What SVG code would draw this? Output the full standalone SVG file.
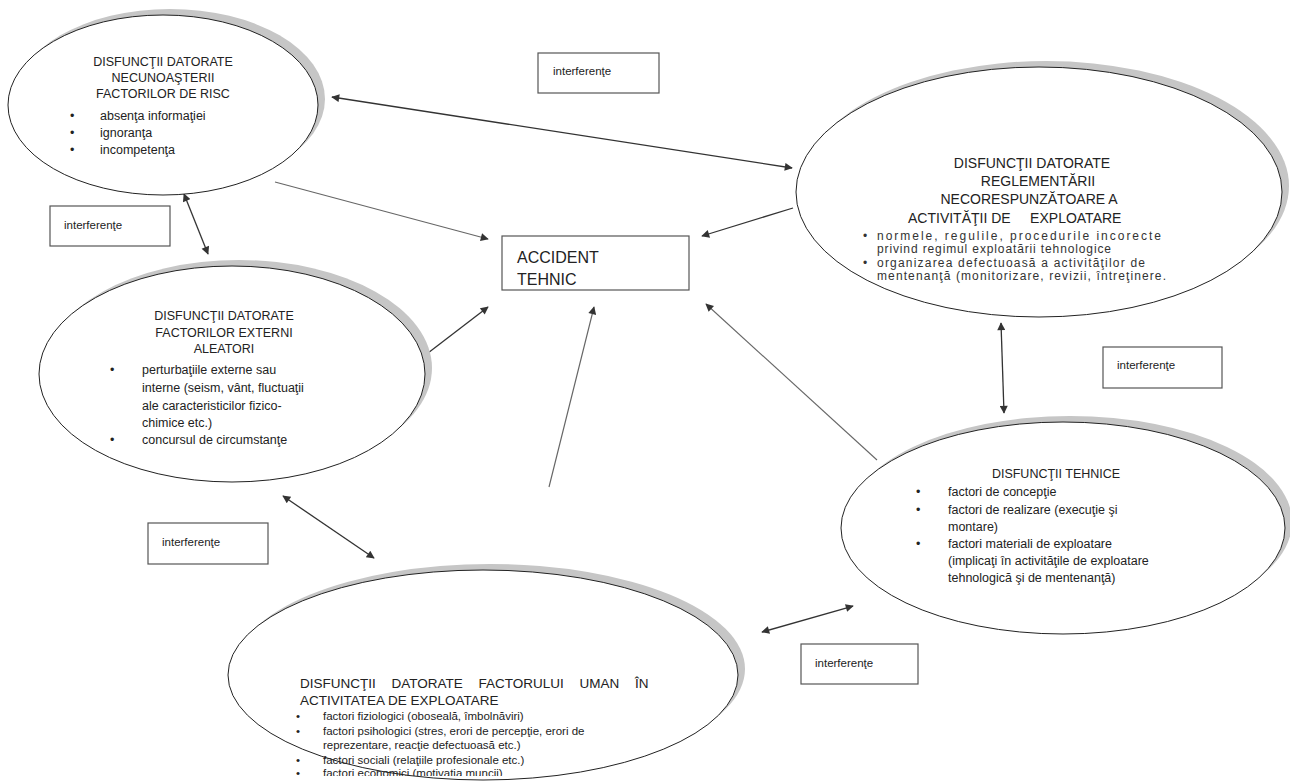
<svg xmlns="http://www.w3.org/2000/svg" width="1290" height="783" viewBox="0 0 1290 783">
<defs>
<marker id="ah" viewBox="0 0 10 10" refX="9" refY="5" markerWidth="10" markerHeight="8" markerUnits="userSpaceOnUse" orient="auto-start-reverse">
<path d="M0,0 L10,5 L0,10 z" fill="#333"/>
</marker>
<clipPath id="c5"><rect x="0" y="0" width="1290" height="776"/></clipPath>
</defs>
<style>
.sh{fill:#c6c6c6;}
.el{fill:#fff;stroke:#222;stroke-width:1;}
.bx{fill:#fff;stroke:#555;stroke-width:1.2;}
.t{font-family:"Liberation Sans",Arial,sans-serif;fill:#222;}
.h1{font-size:12.5px;}
.h2{font-size:14px;}
.h5{font-size:13.5px;}
.b{font-size:12.5px;}
.s{font-size:11.5px;}
.m{font-size:12px;fill:#333;}
.c{text-anchor:middle;}
.ln{stroke:#333;stroke-width:1.3;fill:none;}
.lt{stroke:#666;stroke-width:1.1;fill:none;}
</style>
<rect width="1290" height="783" fill="#fff"/>

<g id="connectors">
<line class="ln" x1="332" y1="97" x2="792" y2="168" marker-start="url(#ah)" marker-end="url(#ah)"/>
<line class="lt" x1="275" y1="182" x2="488" y2="239" marker-end="url(#ah)"/>
<line class="ln" x1="793" y1="208" x2="702" y2="236" marker-end="url(#ah)"/>
<line class="ln" x1="398" y1="376" x2="488" y2="307" marker-end="url(#ah)"/>
<line class="lt" x1="549" y1="487" x2="594" y2="307" marker-end="url(#ah)"/>
<line class="lt" x1="877" y1="460" x2="706" y2="304" marker-end="url(#ah)"/>
<line class="ln" x1="1001" y1="323" x2="1004" y2="413" marker-start="url(#ah)" marker-end="url(#ah)"/>
<line class="ln" x1="184" y1="194" x2="208" y2="254" marker-start="url(#ah)" marker-end="url(#ah)"/>
<line class="ln" x1="283" y1="496" x2="374" y2="558" marker-start="url(#ah)" marker-end="url(#ah)"/>
<line class="ln" x1="762" y1="632" x2="853" y2="606" marker-start="url(#ah)" marker-end="url(#ah)"/>
</g>

<g id="n1">
<ellipse class="sh" cx="170" cy="99" rx="155" ry="90"/>
<ellipse class="el" cx="163" cy="105" rx="155" ry="90"/>
<text class="t h1 c" x="163" y="66">DISFUNCŢII DATORATE</text>
<text class="t h1 c" x="163" y="82">NECUNOAŞTERII</text>
<text class="t h1 c" x="163" y="98">FACTORILOR DE RISC</text>
<text class="t b" x="70" y="120">•</text><text class="t b" x="100" y="120">absenţa informaţiei</text>
<text class="t b" x="70" y="137">•</text><text class="t b" x="100" y="137">ignoranţa</text>
<text class="t b" x="70" y="154">•</text><text class="t b" x="100" y="154">incompetenţa</text>
</g>

<g id="n2">
<ellipse class="sh" cx="1046" cy="186" rx="243" ry="125"/>
<ellipse class="el" cx="1039" cy="192" rx="243" ry="125"/>
<text class="t h2 c" x="1032" y="168">DISFUNCŢII DATORATE</text>
<text class="t h2 c" x="1038" y="186">REGLEMENTĂRII</text>
<text class="t h2 c" x="1029" y="204">NECORESPUNZĂTOARE A</text>
<text class="t h2" x="908" y="223" xml:space="preserve">ACTIVITĂŢII DE     EXPLOATARE</text>
<text class="t m" x="863" y="240">•</text><text class="t m" x="877" y="240" textLength="284" lengthAdjust="spacing">normele, regulile, procedurile incorecte</text>
<text class="t m" x="877" y="253" textLength="234" lengthAdjust="spacing">privind regimul exploatării tehnologice</text>
<text class="t m" x="863" y="267">•</text><text class="t m" x="877" y="267" textLength="268" lengthAdjust="spacing">organizarea defectuoasă a activităţilor de</text>
<text class="t m" x="877" y="280" textLength="289" lengthAdjust="spacing">mentenanţă (monitorizare, revizii, întreţinere.</text>
</g>

<g id="n3">
<ellipse class="sh" cx="239" cy="368" rx="193" ry="108"/>
<ellipse class="el" cx="232" cy="374" rx="193" ry="108"/>
<text class="t h1 c" x="224" y="320">DISFUNCŢII DATORATE</text>
<text class="t h1 c" x="224" y="337">FACTORILOR EXTERNI</text>
<text class="t h1 c" x="224" y="353">ALEATORI</text>
<text class="t b" x="110" y="374">•</text><text class="t b" x="142" y="374">perturbaţiile externe sau</text>
<text class="t b" x="142" y="392">interne (seism, vânt, fluctuaţii</text>
<text class="t b" x="142" y="410">ale caracteristicilor fizico-</text>
<text class="t b" x="142" y="427">chimice etc.)</text>
<text class="t b" x="110" y="444">•</text><text class="t b" x="142" y="444">concursul de circumstanţe</text>
</g>

<g id="n4">
<ellipse class="sh" cx="1070" cy="522" rx="222" ry="106"/>
<ellipse class="el" cx="1063" cy="528" rx="222" ry="106"/>
<text class="t h1 c" x="1056" y="478">DISFUNCŢII TEHNICE</text>
<text class="t b" x="916" y="496">•</text><text class="t b" x="948" y="496">factori de concepţie</text>
<text class="t b" x="916" y="514">•</text><text class="t b" x="948" y="514">factori de realizare (execuţie şi</text>
<text class="t b" x="948" y="531">montare)</text>
<text class="t b" x="916" y="548">•</text><text class="t b" x="948" y="548">factori materiali de exploatare</text>
<text class="t b" x="948" y="565">(implicaţi în activităţile de exploatare</text>
<text class="t b" x="948" y="582">tehnologică şi de mentenanţă)</text>
</g>

<g id="n5">
<ellipse class="sh" cx="490" cy="669" rx="255" ry="105"/>
<ellipse class="el" cx="483" cy="675" rx="255" ry="105"/>
<g clip-path="url(#c5)">
<text class="t h5" x="300" y="688" word-spacing="12">DISFUNCŢII DATORATE FACTORULUI UMAN ÎN</text>
<text class="t h5" x="300" y="705">ACTIVITATEA DE EXPLOATARE</text>
<text class="t s" x="296" y="720">•</text><text class="t s" x="323" y="720">factori fiziologici (oboseală, îmbolnăviri)</text>
<text class="t s" x="296" y="735">•</text><text class="t s" x="323" y="735">factori psihologici (stres, erori de percepţie, erori de</text>
<text class="t s" x="323" y="749">reprezentare, reacţie defectuoasă etc.)</text>
<text class="t s" x="296" y="764">•</text><text class="t s" x="323" y="764">factori sociali (relaţiile profesionale etc.)</text>
<text class="t s" x="296" y="777">•</text><text class="t s" x="323" y="777">factori economici (motivaţia muncii)</text>
</g>
</g>

<g id="accident">
<rect class="bx" x="502" y="236" width="187" height="54"/>
<text class="t" x="517" y="263" font-size="16">ACCIDENT</text>
<text class="t" x="517" y="285" font-size="16">TEHNIC</text>
</g>

<g id="i1"><rect class="bx" x="538" y="53" width="121" height="40"/><text class="t s" x="553" y="75">interferenţe</text></g>
<g id="i2"><rect class="bx" x="50" y="206" width="120" height="40"/><text class="t s" x="64" y="229">interferenţe</text></g>
<g id="i3"><rect class="bx" x="1103" y="347" width="119" height="41"/><text class="t s" x="1117" y="369">interferenţe</text></g>
<g id="i4"><rect class="bx" x="148" y="523" width="120" height="41"/><text class="t s" x="162" y="546">interferenţe</text></g>
<g id="i5"><rect class="bx" x="801" y="644" width="117" height="40"/><text class="t s" x="815" y="667">interferenţe</text></g>
</svg>
